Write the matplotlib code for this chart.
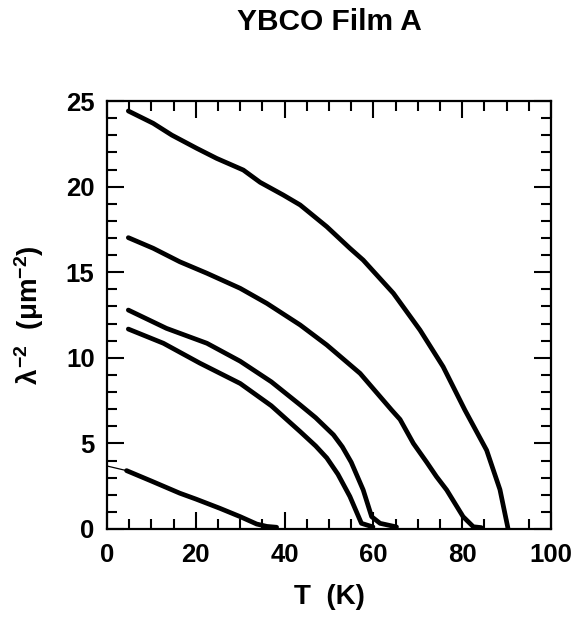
import matplotlib
matplotlib.use("Agg")
import matplotlib.pyplot as plt
from matplotlib.ticker import MultipleLocator

# curves: T (K) and lambda^-2 (um^-2)
t_a = [4.8, 10.4, 14.6, 20.2, 24.7, 30.7, 34.5, 39.7, 43.5, 49.5, 54.7,
       57.7, 64.5, 70.5, 75.7, 80.6, 85.5, 88.5, 90.3]
l_a = [24.42, 23.70, 23.01, 22.24, 21.65, 20.97, 20.25, 19.51, 18.93, 17.66, 16.4,
       15.71, 13.77, 11.62, 9.48, 6.95, 4.6, 2.3, 0.05]

t_b = [4.8, 10.4, 16.4, 22.5, 30.0, 36.0, 43.5, 49.5, 57.0, 64.1, 66, 69,
       72, 74.2, 76.5, 80.2, 82.5, 84.3]
l_b = [17.02, 16.40, 15.61, 14.94, 14.06, 13.18, 11.92, 10.75, 9.09, 6.95, 6.4, 5.0,
       3.9, 3.06, 2.28, 0.72, 0.13, 0.08]

t_c = [4.8, 13.4, 22.5, 30, 37, 43.5, 47, 51, 53, 55, 57.7, 59.6, 61.5, 65.2]
l_c = [12.79, 11.72, 10.85, 9.8, 8.6, 7.25, 6.5, 5.5, 4.8, 3.9, 2.28, 0.72, 0.33, 0.12]

t_d = [4.8, 12.7, 20.9, 30, 37, 43.5, 47, 49.5, 52, 54.7, 57.3, 59.9]
l_d = [11.68, 10.85, 9.69, 8.5, 7.2, 5.69, 4.85, 4.15, 3.2, 1.9, 0.33, 0.12]

t_e = [4.4, 10, 16.4, 20, 25.4, 30, 33.7, 36, 38.2]
l_e = [3.41, 2.8, 2.09, 1.75, 1.21, 0.72, 0.29, 0.15, 0.1]

# linear extrapolation of the lowest curve to T = 0
t_ext = [0, 4.4]
l_ext = [3.68, 3.41]

plt.rcParams["font.family"] = ["Liberation Sans", "DejaVu Sans"]
plt.rcParams["font.weight"] = "bold"
plt.rcParams["mathtext.fontset"] = "custom"
plt.rcParams["mathtext.rm"] = "Liberation Sans:bold"
plt.rcParams["mathtext.it"] = "Liberation Sans:bold"
plt.rcParams["mathtext.bf"] = "Liberation Sans:bold"

fig = plt.figure(figsize=(5.87, 6.2), dpi=100)
ax = fig.add_axes([0.1823, 0.1468, 0.7564, 0.6902])

for t, l in [(t_a, l_a), (t_b, l_b), (t_c, l_c), (t_d, l_d), (t_e, l_e)]:
    ax.plot(t, l, color="black", lw=3.4, solid_capstyle="round",
            solid_joinstyle="round")
ax.plot(t_ext, l_ext, color="black", lw=0.9)

ax.set_xlim(0, 100)
ax.set_ylim(0, 25)
ax.xaxis.set_major_locator(MultipleLocator(20))
ax.xaxis.set_minor_locator(MultipleLocator(5))
ax.yaxis.set_major_locator(MultipleLocator(5))
ax.yaxis.set_minor_locator(MultipleLocator(1))
ax.tick_params(which="both", direction="in", top=True, right=True, width=1.5,
               labelsize=18.5)
ax.tick_params(which="major", length=12)
ax.tick_params(axis="x", which="major", pad=10)
ax.tick_params(axis="y", which="major", pad=9)
ax.tick_params(which="minor", length=7)
for s in ax.spines.values():
    s.set_linewidth(1.6)

ax.set_xlabel("T  (K)", fontsize=20, fontweight="bold", labelpad=12)
ax.set_ylabel(r"$\lambda^{-2}$  ($\mu$m$^{-2}$)", fontsize=20, fontweight="bold",
              labelpad=14)
fig.text(0.562, 0.965, "YBCO Film A", ha="center", va="center",
         fontsize=21.5, fontweight="bold")

fig.savefig("out.png", dpi=100)
